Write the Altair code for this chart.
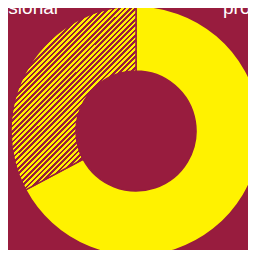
import altair as alt
import pandas as pd

categories = ["professional", "non-professional"]
shares = [67.2, 32.8]
label_left = "Non-professional"
label_right = "professional"

BG = "#981C3E"
YEL = "#FFF200"

df = pd.DataFrame({"category": categories, "share": shares, "order": [0, 1]})

# hatch pattern approximated with a striped linear gradient (45 degree stripes)
w, h = 125.0, 184.0
r = h / w
n = 74
stops = []
for i in range(n):
    a = i / n
    b = (i + 0.5) / n
    c = (i + 1) / n
    stops += [
        {"offset": a, "color": YEL},
        {"offset": b, "color": YEL},
        {"offset": b, "color": BG},
        {"offset": c, "color": BG},
    ]
hatch = {"gradient": "linear", "x1": 0, "y1": 0, "x2": 1, "y2": r, "stops": stops}

arcs = alt.Chart(df).mark_arc(
    outerRadius=125, innerRadius=60, stroke=BG, strokeWidth=1.5
).encode(
    theta=alt.Theta("share:Q", stack=True),
    order=alt.Order("order:Q"),
    fill=alt.condition(alt.datum.category == "non-professional", alt.value(hatch), alt.value(YEL)),
    x=alt.value(128),
    y=alt.value(123),
)

lab = pd.DataFrame({"t": [label_left]})
left = alt.Chart(lab).mark_text(
    align="right", baseline="alphabetic", fontSize=19, font="Liberation Sans", color="white"
).encode(text="t:N", x=alt.value(50), y=alt.value(6))
lab2 = pd.DataFrame({"t": [label_right]})
right = alt.Chart(lab2).mark_text(
    align="left", baseline="alphabetic", fontSize=19, font="Liberation Sans", color="white"
).encode(text="t:N", x=alt.value(215), y=alt.value(6))

chart = alt.layer(arcs, left, right).properties(
    width=240, height=242, background=BG, padding=0, autosize="none"
).configure_view(stroke=None)

chart.save("out.html", embed_options={"renderer": "svg", "actions": False})
